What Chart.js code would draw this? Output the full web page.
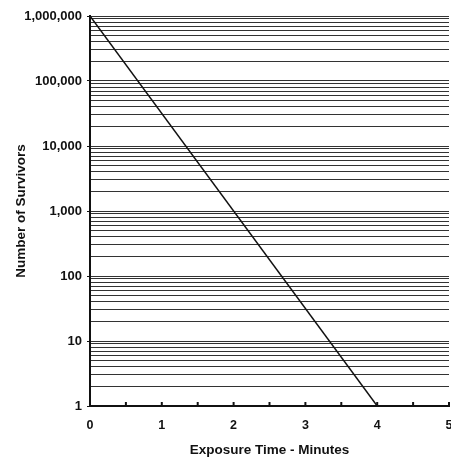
<!DOCTYPE html>
<html>
<head>
<meta charset="utf-8">
<script src="https://cdn.jsdelivr.net/npm/chart.js@4/dist/chart.umd.min.js"></script>
<style>
  html, body { margin: 0; padding: 0; background: #fff; }
  #wrap { width: 451px; height: 458px; }
</style>
</head>
<body>
<div id="wrap"><canvas id="chart" width="451" height="458"></canvas></div>
<script>
const exposureMinutes = [0, 4];
const survivors = [1000000, 1];
const decades = [1, 10, 100, 1000, 10000, 100000, 1000000];
const multipliers = [1, 2, 3, 4, 5, 6, 7, 8, 9];
const xTicks = [0, 0.5, 1, 1.5, 2, 2.5, 3, 3.5, 4, 4.5, 5];

const yTickValues = [];
decades.forEach((d) => {
  multipliers.forEach((m) => {
    const v = d * m;
    if (v <= 1000000) yTickValues.push(v);
  });
});

const FONT = "'Liberation Sans', Arial, sans-serif";

// small upward tick marks on the x axis
const innerTicks = {
  id: "innerTicks",
  afterDraw(chart) {
    const { ctx, scales: { x }, chartArea } = chart;
    ctx.save();
    ctx.strokeStyle = "#111";
    ctx.lineWidth = 2;
    xTicks.forEach((v) => {
      const px = x.getPixelForValue(v);
      ctx.beginPath();
      ctx.moveTo(px, chartArea.bottom);
      ctx.lineTo(px, chartArea.bottom - 4);
      ctx.stroke();
    });
    ctx.restore();
  },
};

new Chart(document.getElementById("chart"), {
  type: "line",
  data: {
    datasets: [{
      data: exposureMinutes.map((x, i) => ({ x, y: survivors[i] })),
      borderColor: "#111",
      borderWidth: 1.5,
      pointRadius: 0,
      fill: false,
    }],
  },
  options: {
    responsive: false,
    animation: false,
    devicePixelRatio: 1,
    layout: { padding: { top: 16, right: 2, left: 0, bottom: 0 } },
    plugins: { legend: { display: false }, tooltip: { enabled: false } },
    scales: {
      x: {
        type: "linear",
        min: 0,
        max: 5,
        afterBuildTicks: (scale) => { scale.ticks = xTicks.map((value) => ({ value })); },
        afterFit: (scale) => { scale.height = 52; scale.paddingRight = 0; },
        grid: { drawOnChartArea: false, drawTicks: false },
        border: { color: "#111", width: 2 },
        ticks: {
          color: "#111",
          padding: 12,
          font: { family: FONT, size: 12.5, weight: "bold" },
          callback: (v) => (Number.isInteger(v) ? String(v) : ""),
        },
        title: {
          display: true,
          text: "Exposure Time - Minutes",
          color: "#111",
          padding: { top: 4, bottom: 0 },
          font: { family: FONT, size: 13.5, weight: "bold" },
        },
      },
      y: {
        type: "logarithmic",
        min: 1,
        max: 1000000,
        afterBuildTicks: (scale) => { scale.ticks = yTickValues.map((value) => ({ value })); },
        afterFit: (scale) => { scale.width = 90; },
        grid: {
          color: "#333",
          lineWidth: 1,
          tickLength: 3,
          tickColor: (c) => (decades.includes(c.tick && c.tick.value) ? "#111" : "rgba(0,0,0,0)"),
        },
        border: { color: "#111", width: 2 },
        ticks: {
          color: "#111",
          padding: 5,
          autoSkip: false,
          font: { family: FONT, size: 13, weight: "bold" },
          callback: (v) => (decades.includes(v) ? v.toLocaleString("en-US") : ""),
        },
        title: {
          display: true,
          text: "Number of Survivors",
          color: "#111",
          padding: { top: 13, bottom: 0 },
          font: { family: FONT, size: 13.5, weight: "bold" },
        },
      },
    },
  },
  plugins: [innerTicks],
});
</script>
</body>
</html>
